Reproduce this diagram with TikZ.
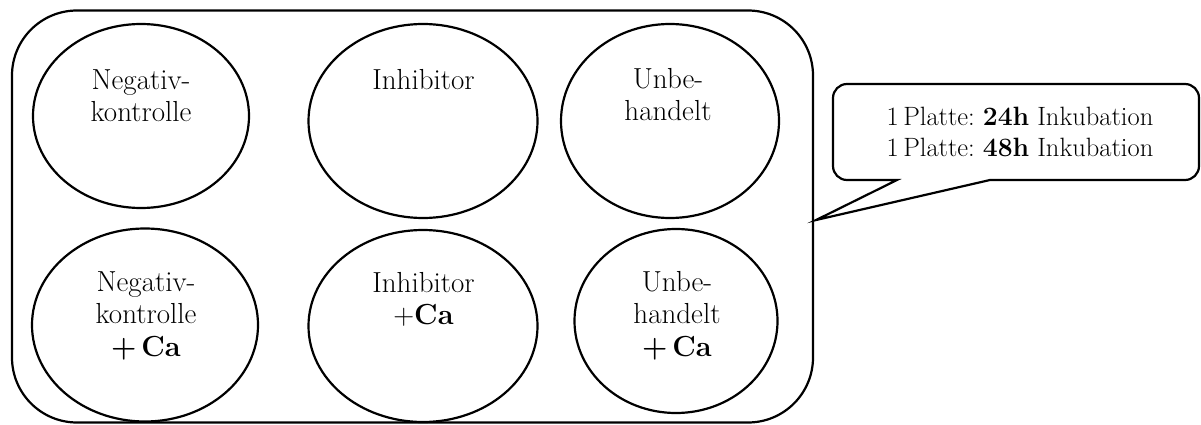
\documentclass[tikz,border=0pt]{standalone}
\usetikzlibrary{shapes.geometric,calc}
\frenchspacing
\begin{document}
\begin{tikzpicture}[x=1pt,y=-1pt,
  well/.style={ellipse, draw, line width=2.2pt, inner sep=0pt},
  lbl/.style={anchor=north, inner sep=0pt, align=center, font=\fontsize{29}{32.5}\selectfont},
  notetext/.style={anchor=north, inner sep=0pt, align=center, font=\fontsize{26.5}{31}\selectfont},
  outline/.style={draw, line width=2.2pt}]
\useasboundingbox (0,0) rectangle (1201,425);

% the plate
\node[outline, rounded corners=65pt, minimum width=801pt, minimum height=412pt, inner sep=0pt] (plate) at (412.5,216.5) {};

% six wells
\node[well, minimum width=216pt, minimum height=184pt] (w1) at (141,116) {};
\node[well, minimum width=229pt, minimum height=194pt] (w2) at (423,121) {};
\node[well, minimum width=218pt, minimum height=194pt] (w3) at (670,121) {};
\node[well, minimum width=226pt, minimum height=193pt] (w4) at (145,325) {};
\node[well, minimum width=229pt, minimum height=192pt] (w5) at (423,326) {};
\node[well, minimum width=203pt, minimum height=184pt] (w6) at (676,321) {};

% well labels
\node[lbl] (t1) at (141,69) {Negativ-\\kontrolle};
\node[lbl] (t2) at (423.5,69) {Inhibitor};
\node[lbl] (t3) at (668,68) {Unbe-\\handelt};
\node[lbl] (t4) at (146,271) {Negativ-\\kontrolle\\\textbf{+\,Ca}};
\node[lbl] (t5) at (423.5,272) {Inhibitor\\+\textbf{Ca}};
\node[lbl] (t6) at (677,271) {Unbe-\\handelt\\\textbf{+\,Ca}};

% callout with incubation note
\coordinate (tip) at ($(plate.east)+(2,3.5)$);
\draw[outline] (1016,84) [rounded corners=14pt] -- (1199,84) -- (1199,180)
  [sharp corners] -- (990,180) -- (tip) -- (897,180)
  [rounded corners=14pt] -- (833,180) -- (833,84) -- cycle;
\node[notetext] (note) at (1020,106.5) {1\,Platte: \textbf{24h} Inkubation\\1\,Platte: \textbf{48h} Inkubation};
\end{tikzpicture}
\end{document}
